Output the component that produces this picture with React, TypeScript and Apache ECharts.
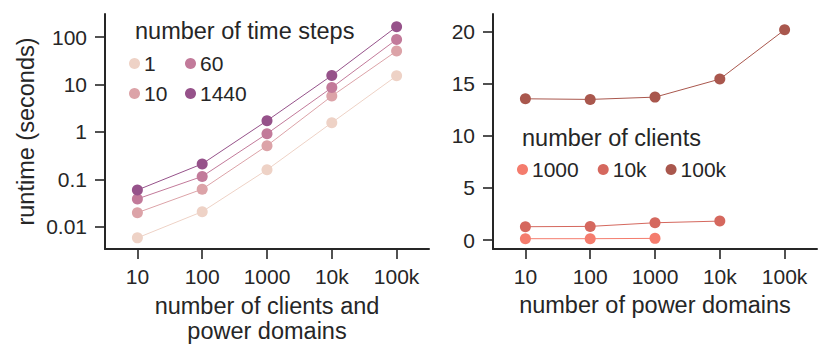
import React, { useEffect, useRef } from 'react';
import * as echarts from 'echarts';

// ---- data ----
const scaleLabels = ['10', '100', '1000', '10k', '100k'];

const timeStepNames = ['1', '10', '60', '1440'];
const runtimeSteps1 = [0.0059, 0.021, 0.16, 1.57, 15.2];
const runtimeSteps10 = [0.02, 0.0625, 0.515, 5.7, 50.7];
const runtimeSteps60 = [0.039, 0.116, 0.92, 8.6, 89];
const runtimeSteps1440 = [0.06, 0.213, 1.73, 15.5, 165];
const timeStepColors = ['#eed2c6', '#dca3a8', '#c27a9a', '#96528a'];

const clientNames = ['1000', '10k', '100k'];
const runtimeClients1000 = [0.13, 0.13, 0.16, null, null];
const runtimeClients10k = [1.28, 1.31, 1.66, 1.82, null];
const runtimeClients100k = [13.56, 13.5, 13.72, 15.45, 20.18];
const clientColors = ['#f47c6d', '#d5685e', '#a9574d'];

const logTickValues = [0.01, 0.1, 1, 10, 100];
const linTickValues = [0, 5, 10, 15, 20];

const FONT = 'Liberation Sans, Arial, Helvetica, sans-serif';
const INK = '#262626';
const NUM_SIZE = 21;
const TITLE_SIZE = 23.5;

export default function App() {
  const ref = useRef<HTMLDivElement>(null);

  useEffect(() => {
    document.body.style.margin = '0';
    if (!ref.current) return;
    const chart = echarts.init(ref.current, null, { renderer: 'svg' });

    const axisLine = { show: true, onZero: false, lineStyle: { color: INK, width: 2 } };
    const axisTick = { show: true, length: 10, lineStyle: { color: INK, width: 1.6 } };
    const numLabel = { color: INK, fontSize: NUM_SIZE, fontFamily: FONT };

    const logSeries = [runtimeSteps1, runtimeSteps10, runtimeSteps60, runtimeSteps1440];
    const clientSeries = [runtimeClients1000, runtimeClients10k, runtimeClients100k];

    const series: any[] = [];
    logSeries.forEach((arr, i) => {
      series.push({
        name: timeStepNames[i],
        type: 'line',
        xAxisIndex: 0,
        yAxisIndex: 0,
        data: arr.map((v) => Math.log10(v)),
        symbol: 'circle',
        symbolSize: 11,
        itemStyle: { color: timeStepColors[i] },
        lineStyle: { color: timeStepColors[i], width: 1 },
      });
    });
    clientSeries.forEach((arr, i) => {
      series.push({
        name: clientNames[i],
        type: 'line',
        xAxisIndex: 1,
        yAxisIndex: 1,
        data: arr,
        symbol: 'circle',
        symbolSize: 11,
        itemStyle: { color: clientColors[i] },
        lineStyle: { color: clientColors[i], width: 1 },
      });
    });

    const legendBase = {
      icon: 'circle',
      itemWidth: 11,
      itemHeight: 11,
      padding: 0,
      selectedMode: false,
      textStyle: { color: INK, fontSize: NUM_SIZE, fontFamily: FONT, padding: [0, 0, 0, -1] },
    };

    chart.setOption({
      animation: false,
      textStyle: { fontFamily: FONT },
      grid: [
        { left: 105, top: 14, width: 324, height: 235 },
        { left: 493, top: 14, width: 324, height: 235 },
      ],
      xAxis: [
        {
          gridIndex: 0,
          type: 'category',
          data: scaleLabels,
          boundaryGap: true,
          axisLine,
          axisTick: { ...axisTick, alignWithLabel: true },
          axisLabel: { ...numLabel, margin: 17 },
          name: 'number of clients and\npower domains',
          nameLocation: 'middle',
          nameGap: 44,
          nameTextStyle: { color: INK, fontSize: TITLE_SIZE, fontFamily: FONT, lineHeight: 25, verticalAlign: 'top' },
        },
        {
          gridIndex: 1,
          type: 'category',
          data: scaleLabels,
          boundaryGap: true,
          axisLine,
          axisTick: { ...axisTick, alignWithLabel: true },
          axisLabel: { ...numLabel, margin: 17 },
          name: 'number of power domains',
          nameLocation: 'middle',
          nameGap: 44,
          nameTextStyle: { color: INK, fontSize: TITLE_SIZE, fontFamily: FONT, verticalAlign: 'top' },
        },
      ],
      yAxis: [
        {
          gridIndex: 0,
          type: 'value',
          min: Math.log10(0.00344),
          max: Math.log10(305),
          axisLine,
          axisTick: { ...axisTick, customValues: logTickValues.map((v) => Math.log10(v)) },
          axisLabel: {
            ...numLabel,
            margin: 18,
            customValues: logTickValues.map((v) => Math.log10(v)),
            formatter: (v: number) => {
              const p = Math.round(v);
              const n = Math.pow(10, p);
              return p < 0 ? n.toFixed(-p) : String(n);
            },
          },
          splitLine: { show: false },
          name: 'runtime (seconds)',
          nameLocation: 'middle',
          nameGap: 67,
          nameTextStyle: { color: INK, fontSize: TITLE_SIZE, fontFamily: FONT },
        },
        {
          gridIndex: 1,
          type: 'value',
          min: -0.86,
          max: 21.7,
          axisLine,
          axisTick: { ...axisTick, customValues: linTickValues },
          axisLabel: { ...numLabel, margin: 18, customValues: linTickValues },
          splitLine: { show: false },
        },
      ],
      legend: [
        { ...legendBase, data: ['1', '10'], orient: 'vertical', left: 129, top: 53, itemGap: 9 },
        { ...legendBase, data: ['60', '1440'], orient: 'vertical', left: 185, top: 53, itemGap: 9 },
        { ...legendBase, data: clientNames, orient: 'horizontal', left: 517, top: 159, itemGap: 19 },
      ],
      graphic: [
        {
          type: 'text',
          left: 135,
          top: 19,
          style: { text: 'number of time steps', fill: INK, fontSize: TITLE_SIZE, fontFamily: FONT },
        },
        {
          type: 'text',
          left: 522,
          top: 126,
          style: { text: 'number of clients', fill: INK, fontSize: TITLE_SIZE, fontFamily: FONT },
        },
      ],
      series,
    });

    return () => chart.dispose();
  }, []);

  return <div ref={ref} style={{ width: 831, height: 357 }} />;
}
